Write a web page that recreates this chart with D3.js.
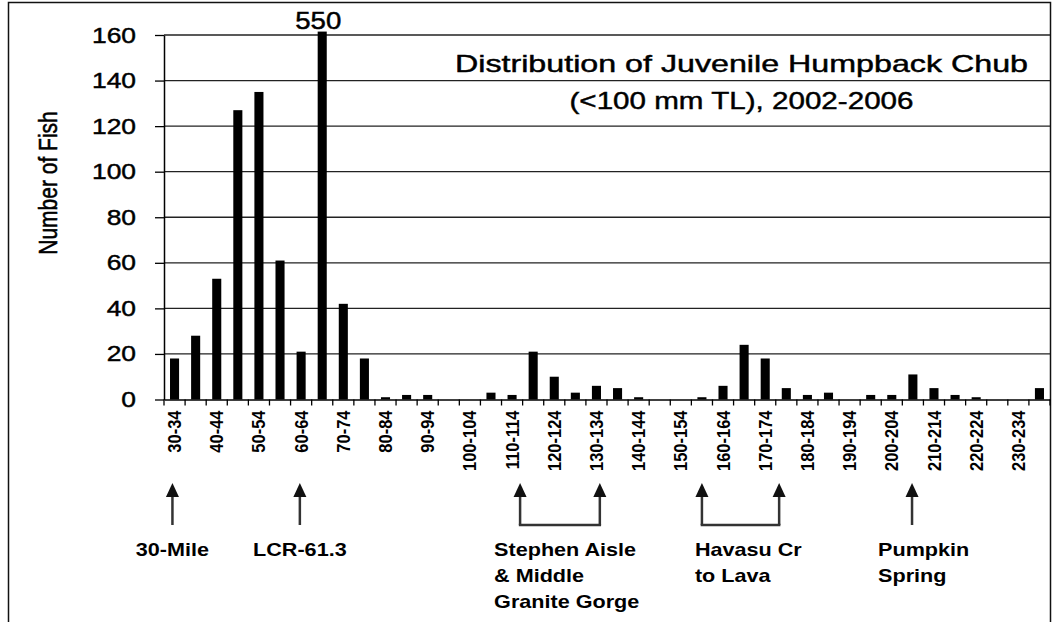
<!DOCTYPE html>
<html>
<head>
<meta charset="utf-8">
<script src="https://cdn.jsdelivr.net/npm/d3@7"></script>
<style>
  body { margin: 0; background: #fff; }
  svg { display: block; font-family: Arial, "Liberation Sans", sans-serif; }
  .heavy { stroke: #000; stroke-width: 0.45px; }
</style>
</head>
<body>
<script>
// Size classes (mm TL bins, 5 mm wide)
const categories = [
  "30-34", "35-39", "40-44", "45-49", "50-54", "55-59", "60-64", "65-69",
  "70-74", "75-79", "80-84", "85-89", "90-94", "95-99", "100-104", "105-109",
  "110-114", "115-119", "120-124", "125-129", "130-134", "135-139", "140-144", "145-149",
  "150-154", "155-159", "160-164", "165-169", "170-174", "175-179", "180-184", "185-189",
  "190-194", "195-199", "200-204", "205-209", "210-214", "215-219", "220-224", "225-229",
  "230-234", "235-239"
];
// Number of fish in each class (the 65-69 bar runs off the chart at 550)
const counts = [
  18, 28, 53, 127, 135, 61, 21, 550,
  42, 18, 1, 2, 2, 0, 0, 3,
  2, 21, 10, 3, 6, 5, 1, 0,
  0, 1, 6, 24, 18, 5, 2, 3,
  0, 2, 2, 11, 5, 2, 1, 0,
  0, 5
];
// Only every other class is labelled
const xTickLabels = [
  "30-34", "40-44", "50-54", "60-64", "70-74", "80-84", "90-94", "100-104",
  "110-114", "120-124", "130-134", "140-144", "150-154", "160-164", "170-174",
  "180-184", "190-194", "200-204", "210-214", "220-224", "230-234"
];
const yTicks = [0, 20, 40, 60, 80, 100, 120, 140, 160];

// Site markers below the axis, anchored at river mile along the x axis
const siteLabels = [["30-Mile"], ["LCR-61.3"], ["Stephen Aisle", "& Middle", "Granite Gorge"],
                    ["Havasu Cr", "to Lava"], ["Pumpkin", "Spring"]];
const siteMiles = [[32], [62.2], [114.4, 133.3], [157.5, 175.8], [207.3]];

const titleLines = ["Distribution of Juvenile Humpback Chub", "(<100 mm TL), 2002-2006"];

const width = 1054, height = 622;
const plotLeft = 164, plotRight = 1050, plotTop = 35, plotBottom = 399.5;
const SX = 1.2; // the source picture is stretched sideways a bit

const svg = d3.select("body").append("svg")
    .attr("width", width)
    .attr("height", height);

// outer frame
svg.append("rect")
    .attr("x", 8.5).attr("y", 2.5)
    .attr("width", plotRight - 8).attr("height", 700)
    .attr("fill", "none").attr("stroke", "#111").attr("stroke-width", 1.5);

const x = d3.scaleBand()
    .domain(categories)
    .range([plotLeft, plotRight])
    .paddingInner(0.57)
    .paddingOuter(0.285);
const step = x.step();

const y = d3.scaleLinear()
    .domain([0, 160])
    .range([plotBottom, plotTop]);

const mile = d3.scaleLinear()
    .domain([30, 240])
    .range([plotLeft, plotRight]);

// gridlines
svg.append("g")
    .selectAll("line")
    .data(yTicks.filter(d => d > 0))
    .join("line")
    .attr("x1", plotLeft).attr("x2", plotRight)
    .attr("y1", d => y(d)).attr("y2", d => y(d))
    .attr("stroke", "#222").attr("stroke-width", 1.3);

// bars (off-scale bar is cut just above the top line)
svg.append("g")
    .selectAll("rect")
    .data(counts)
    .join("rect")
    .attr("x", (d, i) => x(categories[i]))
    .attr("width", x.bandwidth())
    .attr("y", d => y(Math.min(d, 161.5)))
    .attr("height", d => plotBottom - y(Math.min(d, 161.5)))
    .attr("fill", "#000");

// label for the off-scale bar
const maxI = counts.indexOf(d3.max(counts));
svg.append("text")
    .attr("class", "heavy")
    .attr("transform", `translate(${x(categories[maxI]) + x.bandwidth() / 2 - 4},29) scale(${SX},1)`)
    .attr("text-anchor", "middle")
    .style("font-size", "23px")
    .text(d3.max(counts));

// y axis
const yAxis = svg.append("g")
    .attr("transform", `translate(${plotLeft},0)`)
    .call(d3.axisLeft(y).tickValues(yTicks).tickSize(9).tickPadding(18).tickSizeOuter(0));
yAxis.select(".domain").attr("stroke", "#000").attr("stroke-width", 1.5);
yAxis.selectAll(".tick line").attr("stroke", "#000").attr("stroke-width", 1.3);
yAxis.selectAll(".tick text")
    .attr("class", "heavy")
    .attr("x", null)
    .attr("transform", `translate(-28,0) scale(${SX},1)`)
    .attr("fill", "#000")
    .style("font-size", "22px")
    .style("font-family", "Arial, 'Liberation Sans', sans-serif");

// x axis: labels at band centres, tick marks at band edges
const xAxis = svg.append("g")
    .attr("transform", `translate(0,${plotBottom})`)
    .call(d3.axisBottom(x).tickValues(xTickLabels).tickSize(0).tickSizeOuter(0));
xAxis.select(".domain").attr("stroke", "#000").attr("stroke-width", 1.5);
xAxis.selectAll(".tick text")
    .attr("y", 0).attr("dy", "0.36em").attr("x", 0)
    .attr("transform", "translate(0,11) scale(1.1,1) rotate(-90)")
    .attr("text-anchor", "end")
    .attr("fill", "#000")
    .style("font-size", "16.5px")
    .style("font-weight", "bold")
    .style("font-family", "Arial, 'Liberation Sans', sans-serif");

const edges = categories.map(c => x(c) + x.bandwidth() / 2 - step / 2).concat([plotRight]);
svg.append("g")
    .selectAll("line")
    .data(edges)
    .join("line")
    .attr("x1", d => d).attr("x2", d => d)
    .attr("y1", plotBottom).attr("y2", plotBottom + 6)
    .attr("stroke", "#000").attr("stroke-width", 1.3);

// y axis title
svg.append("text")
    .attr("class", "heavy")
    .attr("transform", `translate(48,183) scale(${SX},1) rotate(-90)`)
    .attr("text-anchor", "middle")
    .attr("dy", "0.35em")
    .style("font-size", "21px")
    .text("Number of Fish");

// chart title
const titleWidths = [573, 344];
titleLines.forEach((t, i) => {
  svg.append("text")
      .attr("class", "heavy")
      .attr("x", 741.5)
      .attr("y", 72 + i * 37)
      .attr("text-anchor", "middle")
      .attr("textLength", titleWidths[i])
      .attr("lengthAdjust", "spacingAndGlyphs")
      .style("font-size", "24px")
      .text(t);
});

// site arrows and labels
const arrowTip = 483, arrowBase = 497, arrowEnd = 525;
const labelAlign = [["middle", 0], ["middle", 0], ["start", -26], ["start", -7], ["start", -34]];
siteMiles.forEach((ms, k) => {
  const g = svg.append("g");
  ms.forEach(m => {
    const px = mile(m);
    g.append("line")
        .attr("x1", px).attr("x2", px)
        .attr("y1", arrowBase - 1).attr("y2", arrowEnd)
        .attr("stroke", "#333").attr("stroke-width", 2.5);
    g.append("path")
        .attr("d", `M${px},${arrowTip}L${px - 6.5},${arrowBase}L${px + 6.5},${arrowBase}Z`)
        .attr("fill", "#111");
  });
  if (ms.length > 1) {
    g.append("line")
        .attr("x1", mile(ms[0]) - 1.25).attr("x2", mile(ms[1]) + 1.25)
        .attr("y1", arrowEnd).attr("y2", arrowEnd)
        .attr("stroke", "#333").attr("stroke-width", 2.5);
  }
  const [anchor, dx] = labelAlign[k];
  siteLabels[k].forEach((line, j) => {
    g.append("text")
        .attr("transform", `translate(${mile(ms[0]) + dx},${556 + j * 26}) scale(${SX},1)`)
        .attr("text-anchor", anchor)
        .style("font-size", "18px")
        .style("font-weight", "bold")
        .text(line);
  });
});
</script>
</body>
</html>
